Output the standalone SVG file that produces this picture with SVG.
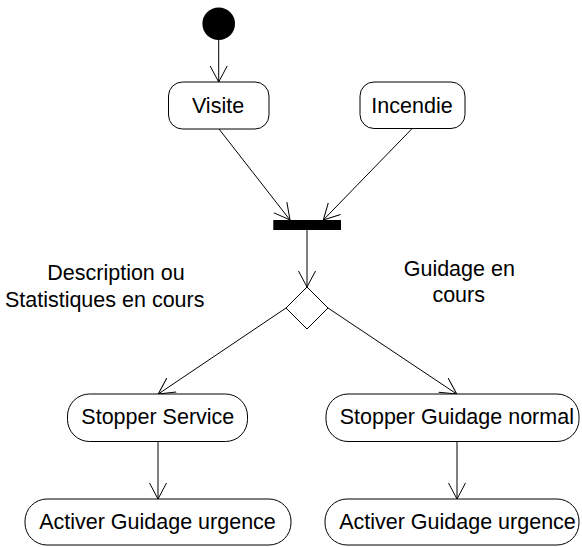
<svg xmlns="http://www.w3.org/2000/svg" width="582" height="547" viewBox="0 0 582 547">
<style>
  .box { fill: #fff; stroke: #000; stroke-width: 1; }
  .lbl { font-family: "Liberation Sans", Arial, sans-serif; font-size: 21.5px; fill: #000; text-anchor: middle; }
  .edge { stroke: #000; stroke-width: 1; fill: none; marker-end: url(#arr); }
</style>
<defs>
  <marker id="arr" markerUnits="userSpaceOnUse" markerWidth="20" markerHeight="20" refX="16" refY="9" orient="auto">
    <path d="M0,0.5 L16,9 L0,17.5" fill="none" stroke="#000" stroke-width="1"/>
  </marker>
</defs>
<rect width="582" height="547" fill="#fff"/>
<g id="connectors">
  <line class="edge" x1="218.7" y1="40" x2="218.7" y2="82"/>
  <line class="edge" x1="219" y1="129" x2="290" y2="220"/>
  <line class="edge" x1="411.7" y1="129" x2="323.3" y2="220"/>
  <line class="edge" x1="307" y1="230" x2="307" y2="287"/>
  <line class="edge" x1="286" y1="308" x2="158.3" y2="394"/>
  <line class="edge" x1="328" y1="308" x2="456.7" y2="394"/>
  <line class="edge" x1="158" y1="442" x2="158" y2="499"/>
  <line class="edge" x1="457" y1="442" x2="457" y2="499"/>
</g>
<g id="initial">
  <circle cx="218.7" cy="23.7" r="16.3" fill="#000"/>
</g>
<g id="visite">
  <rect class="box" x="168.5" y="82" width="100.5" height="47" rx="14"/>
  <text class="lbl" x="218" y="113">Visite</text>
</g>
<g id="incendie">
  <rect class="box" x="360" y="82" width="105" height="46.5" rx="14"/>
  <text class="lbl" x="412" y="112.5">Incendie</text>
</g>
<g id="join">
  <rect x="273.3" y="220" width="67.7" height="10" fill="#000"/>
</g>
<g id="decision">
  <polygon points="307,287 328,308 307,329 286,308" fill="#fff" stroke="#000" stroke-width="1"/>
</g>
<g id="guard-left">
  <text class="lbl" x="116" y="280">Description ou</text>
  <text class="lbl" x="104.7" y="307">Statistiques en cours</text>
</g>
<g id="guard-right">
  <text class="lbl" x="459.3" y="276">Guidage en</text>
  <text class="lbl" x="458.7" y="301.5">cours</text>
</g>
<g id="stopper-service">
  <rect class="box" x="67.5" y="394" width="180" height="47.5" rx="22"/>
  <text class="lbl" x="157.8" y="424">Stopper Service</text>
</g>
<g id="stopper-guidage">
  <rect class="box" x="326" y="394" width="253" height="47.5" rx="22"/>
  <text class="lbl" x="456.8" y="424">Stopper Guidage normal</text>
</g>
<g id="activer-left">
  <rect class="box" x="25" y="499" width="266" height="46" rx="22"/>
  <text class="lbl" x="157.5" y="529">Activer Guidage urgence</text>
</g>
<g id="activer-right">
  <rect class="box" x="325" y="499" width="254" height="46" rx="22"/>
  <text class="lbl" x="457.5" y="529">Activer Guidage urgence</text>
</g>
</svg>
